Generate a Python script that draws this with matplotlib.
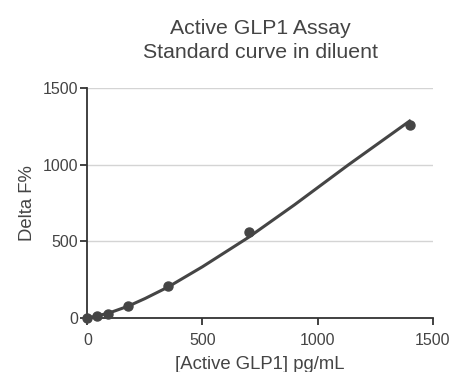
import matplotlib.pyplot as plt
import numpy as np

plt.rcParams['font.family'] = ['Liberation Sans', 'DejaVu Sans']

# measured standards
conc = [0, 43.75, 87.5, 175, 350, 700, 1400]
delta_f = [0, 11, 22, 76, 206, 558, 1260]

# fitted standard curve
fit_x = [0, 25, 50, 100, 175, 250, 350, 500, 700, 900, 1135, 1400]
fit_y = [0, 6, 14, 34, 74, 125, 200, 333, 525, 738, 1000, 1285]

fig = plt.figure(figsize=(4.53, 3.72), dpi=100)
ax = fig.add_axes([0.193, 0.146, 0.762, 0.617])

ax.plot(fit_x, fit_y, c='#454545', linewidth=2.2, zorder=3)
ax.plot(conc, delta_f, 'o', c='#454545', markersize=6.5, zorder=4, clip_on=False)

ax.set_xlim(0, 1500)
ax.set_ylim(0, 1500)
ax.set_xticks([0, 500, 1000, 1500])
ax.set_yticks([0, 500, 1000, 1500])
ax.yaxis.grid(True, color='#d4d4d4', linewidth=1)
ax.set_axisbelow(True)

for s in ['top', 'right']:
    ax.spines[s].set_visible(False)
for s in ['left', 'bottom']:
    ax.spines[s].set_color('#333333')
    ax.spines[s].set_linewidth(1.3)
ax.tick_params(direction='out', length=5, width=1.3, color='#333333',
               labelsize=11.5, labelcolor='#444444')
ax.tick_params(axis='x', pad=6)
ax.tick_params(axis='y', pad=1.5)

ax.set_xlabel('[Active GLP1] pg/mL', fontsize=13.3, color='#444444', labelpad=6)
ax.set_ylabel('Delta F%', fontsize=13.3, color='#444444', labelpad=5)
ax.set_title('Active GLP1 Assay\nStandard curve in diluent', fontsize=15.3,
             color='#444444', pad=22, linespacing=1.3)

fig.savefig('out.png', dpi=100)
